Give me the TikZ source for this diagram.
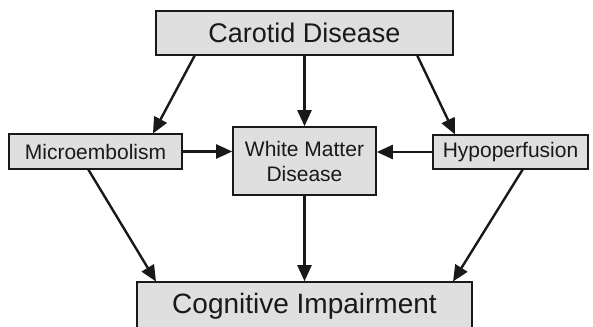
\documentclass[tikz,border=0pt]{standalone}
\usepackage{fontspec}
\setmainfont{Liberation Sans}
\usetikzlibrary{arrows.meta}
\definecolor{boxfill}{RGB}{223,223,223}
\definecolor{inkc}{RGB}{25,25,25}
\tikzset{
  box/.style={draw=inkc, fill=boxfill, line width=1.6pt, inner sep=0pt, text=inkc, align=center, rectangle},
  arr/.style={draw=inkc, line width=2.4pt, -{Triangle[length=16pt,width=14pt]}},
}
\begin{document}
\begin{tikzpicture}[x=1pt,y=-1pt]
\useasboundingbox (0,0) rectangle (593,326);
\clip (0,0) rectangle (593,326);
\node[box, minimum width=297pt, minimum height=44pt, font=\fontsize{27}{30}\selectfont] (car) at (304.5,33) {Carotid Disease};
\node[box, minimum width=173pt, minimum height=35pt, font=\fontsize{21}{24}\selectfont] (mic) at (95.5,151.5) {Microembolism};
\node[box, minimum width=143pt, minimum height=68pt, font=\fontsize{21}{25}\selectfont] (wmd) at (304.5,161) {White Matter\\Disease};
\node[box, minimum width=155pt, minimum height=34pt, font=\fontsize{21}{24}\selectfont] (hyp) at (510.5,152) {Hypoperfusion};
\node[box, minimum width=335pt, minimum height=48pt, font=\fontsize{28}{32}\selectfont] (cog) at (304.5,306) {Cognitive Impairment};
% connector endpoints
\coordinate (c1) at (195,55);
\coordinate (c2) at (417,55);
\coordinate (m1) at (153,133.5);
\coordinate (h1) at (455,134.5);
\coordinate (m2) at (88,169);
\coordinate (h2) at (523,169);
\coordinate (g1) at (156,281.5);
\coordinate (g2) at (453,281.5);
\draw[arr] (c1) -- (m1);
\draw[arr] (car.south) -- (wmd.north);
\draw[arr] (c2) -- (h1);
\draw[arr] (mic.east) -- (wmd.west |- mic.east);
\draw[arr] (hyp.west) -- (wmd.east |- hyp.west);
\draw[arr] (m2) -- (g1);
\draw[arr] (wmd.south) -- (cog.north);
\draw[arr] (h2) -- (g2);
\end{tikzpicture}
\end{document}
